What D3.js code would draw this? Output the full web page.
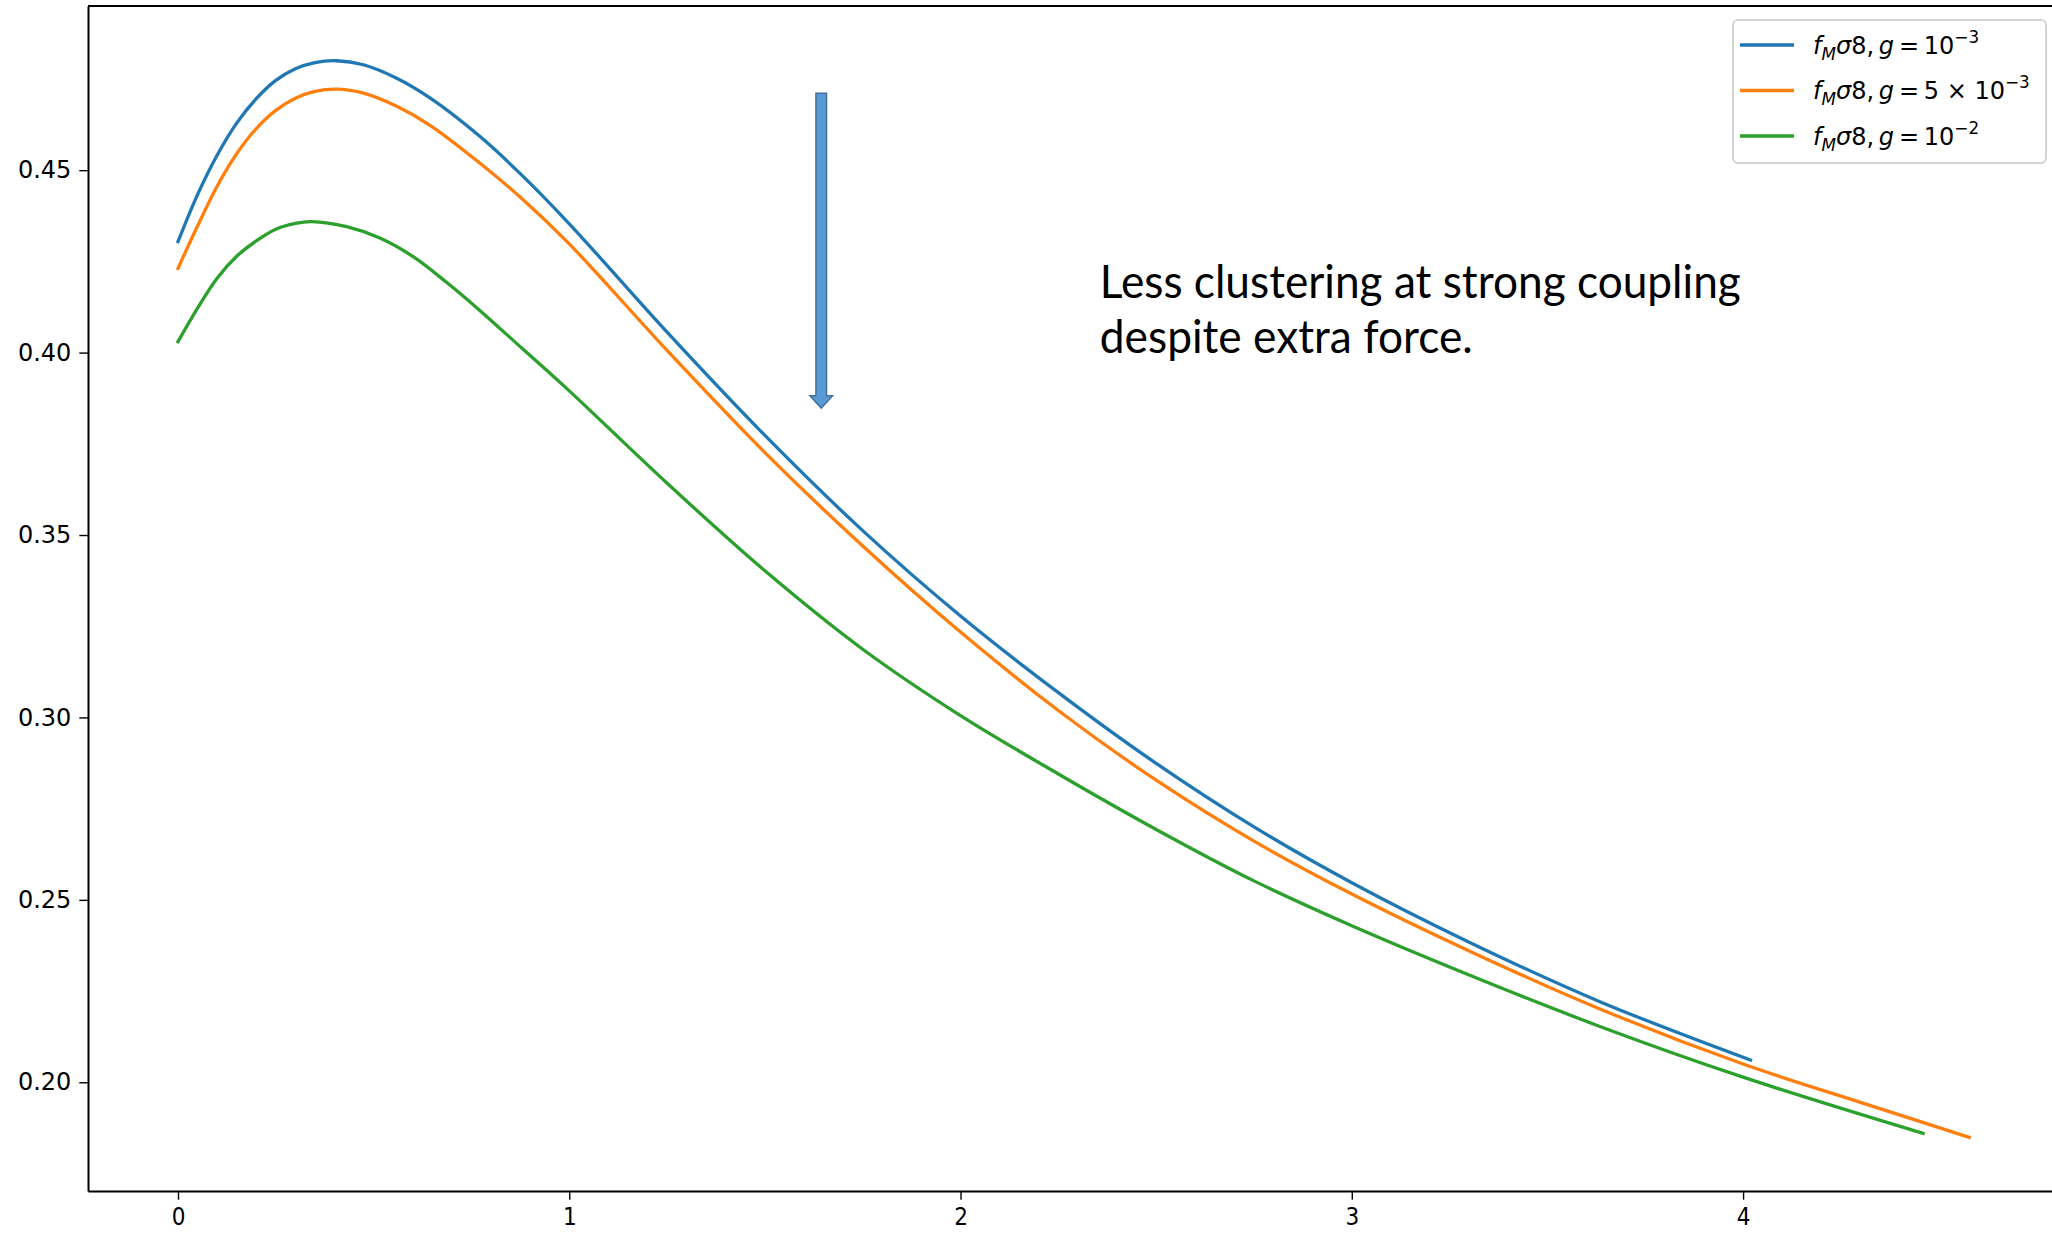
<!DOCTYPE html>
<html>
<head>
<meta charset="utf-8">
<script src="https://cdn.jsdelivr.net/npm/d3@7"></script>
<style>
    body { margin: 0; background: #fff; }
    svg { display: block; }
</style>
</head>
<body>
<svg id="chart"></svg>
<script>
// values (z on x, f_M sigma8 on y)
const blueX = [0, 0.05, 0.1, 0.15, 0.2, 0.25, 0.3, 0.35, 0.405, 0.474, 0.559, 0.644, 0.772, 0.88, 1.0, 1.25, 1.5, 1.75, 2.0, 2.25, 2.5, 2.75, 3.0, 3.3, 3.634, 4.019];
const blueY = [0.4304, 0.4433, 0.4541, 0.4629, 0.4696, 0.4746, 0.4778, 0.4795, 0.48, 0.4789, 0.4752, 0.4698, 0.4592, 0.4485, 0.4353, 0.4056, 0.3773, 0.3512, 0.3278, 0.3068, 0.2874, 0.27, 0.2547, 0.2384, 0.2221, 0.2061];

const orangeX = [0, 0.05, 0.1, 0.15, 0.2, 0.25, 0.3, 0.35, 0.41, 0.474, 0.559, 0.644, 0.772, 0.88, 1.0, 1.25, 1.5, 1.75, 2.0, 2.25, 2.5, 2.75, 3.0, 3.3, 3.634, 4.0, 4.3, 4.578];
const orangeY = [0.4231, 0.4347, 0.4456, 0.4545, 0.4614, 0.4664, 0.4697, 0.4716, 0.4722, 0.4711, 0.4675, 0.4623, 0.4519, 0.4421, 0.4298, 0.4006, 0.3726, 0.347, 0.3234, 0.3019, 0.2828, 0.2661, 0.2516, 0.236, 0.2201, 0.205, 0.1945, 0.1849];

const greenX = [0, 0.05, 0.1, 0.15, 0.2, 0.25, 0.3, 0.342, 0.431, 0.516, 0.601, 0.687, 0.772, 0.88, 1.0, 1.25, 1.5, 1.75, 2.0, 2.25, 2.5, 2.75, 3.0, 3.3, 3.634, 4.0, 4.46];
const greenY = [0.403, 0.4122, 0.4204, 0.4264, 0.4306, 0.4338, 0.4354, 0.4359, 0.4345, 0.4314, 0.4263, 0.4192, 0.4115, 0.4011, 0.3895, 0.3642, 0.3402, 0.3187, 0.3005, 0.2845, 0.2693, 0.2552, 0.2429, 0.2294, 0.2153, 0.2014, 0.186];

const xTicks = [0, 1, 2, 3, 4];
const yTicks = [0.2, 0.25, 0.3, 0.35, 0.4, 0.45];

const seriesLabels = [
    ['10', '−3'],
    ['5 × 10', '−3'],
    ['10', '−2']
];

// arrow + note, in data units
const arrowAt = { x: 1.644, yTop: 0.4711, yTip: 0.3848 };
const noteAt = { x: 2.356, y: 0.4149 };
const noteLines = ['Less clustering at strong coupling', 'despite extra force.'];

const colors = ['#1f77b4', '#ff7f0e', '#2ca02c'];

function renderChart() {
    const width = 2052;
    const height = 1236;
    const svg = d3.select('#chart').attr('width', width).attr('height', height);

    svg.append('rect').attr('width', width).attr('height', height).attr('fill', '#fff');

    const x = d3.scaleLinear().domain([-0.23, 4.81]).range([88, 2060]);
    const y = d3.scaleLinear().domain([0.1702, 0.495]).range([1191, 6]);

    const series = [
        blueX.map((d, i) => [d, blueY[i]]),
        orangeX.map((d, i) => [d, orangeY[i]]),
        greenX.map((d, i) => [d, greenY[i]])
    ];

    const line = d3
        .line()
        .x((d) => x(d[0]))
        .y((d) => y(d[1]))
        .curve(d3.curveCatmullRom.alpha(0.5));

    svg.append('g')
        .attr('fill', 'none')
        .attr('stroke-width', 3.3)
        .attr('stroke-linecap', 'square')
        .attr('stroke-linejoin', 'round')
        .selectAll('path')
        .data(series)
        .enter()
        .append('path')
        .attr('stroke', (d, i) => colors[i])
        .attr('d', line);

    // axes
    const yAxis = svg
        .append('g')
        .attr('transform', `translate(${x.range()[0]},0)`)
        .call(
            d3
                .axisLeft(y)
                .tickValues(yTicks)
                .tickFormat(d3.format('.2f'))
                .tickSize(8.7)
                .tickSizeOuter(0)
                .tickPadding(8)
        );
    yAxis.selectAll('text')
        .attr('font-family', 'DejaVu Sans')
        .attr('font-size', 24)
        .attr('fill', '#000');

    const xAxis = svg
        .append('g')
        .attr('transform', `translate(0,${y.range()[0]})`)
        .call(
            d3
                .axisBottom(x)
                .tickValues(xTicks)
                .tickFormat(d3.format('d'))
                .tickSize(8.7)
                .tickSizeOuter(0)
                .tickPadding(8)
        );
    xAxis.selectAll('text')
        .attr('font-family', 'DejaVu Sans Condensed')
        .attr('font-size', 24)
        .attr('fill', '#000');

    svg.selectAll('.domain').attr('stroke', '#000').attr('stroke-width', 2);
    svg.selectAll('.tick line').attr('stroke', '#000').attr('stroke-width', 1.4);

    // top + right spines
    svg.append('path')
        .attr('fill', 'none')
        .attr('stroke', '#000')
        .attr('stroke-width', 2)
        .attr('d', `M${x.range()[0]},${y.range()[1]} H${x.range()[1]} V${y.range()[0]}`);

    // legend
    const legend = svg.append('g').attr('transform', 'translate(1733,20)');
    legend.append('rect')
        .attr('width', 313)
        .attr('height', 143)
        .attr('rx', 5)
        .attr('fill', '#fff')
        .attr('fill-opacity', 0.8)
        .attr('stroke', '#d4d4d4')
        .attr('stroke-width', 2);

    const rows = legend
        .selectAll('g.row')
        .data(seriesLabels)
        .enter()
        .append('g')
        .attr('class', 'row')
        .attr('transform', (d, i) => `translate(0,${25 + i * 45.5})`);

    rows.append('line')
        .attr('x1', 7)
        .attr('x2', 61)
        .attr('stroke', (d, i) => colors[i])
        .attr('stroke-width', 3.3);

    rows.each(function (d) {
        const t = d3
            .select(this)
            .append('text')
            .attr('x', 80)
            .attr('y', 8.5)
            .attr('font-family', 'DejaVu Sans')
            .attr('font-size', 24)
            .attr('fill', '#000');
        const parts = [
            { s: 'f', it: true },
            { s: 'M', it: true, dy: 6, fs: 16.8 },
            { s: 'σ', it: true, dy: -6 },
            { s: '8' },
            { s: ',\u2009' },
            { s: 'g', it: true },
            { s: '\u2009=\u2009' },
            { s: d[0] },
            { s: d[1], dy: -11, fs: 16.8 }
        ];
        parts.forEach((p) => {
            t.append('tspan')
                .attr('dy', p.dy || 0)
                .attr('font-style', p.it ? 'italic' : 'normal')
                .attr('font-size', p.fs || 24)
                .text(p.s);
        });
    });

    // arrow
    const ax = x(arrowAt.x);
    const top = y(arrowAt.yTop);
    const tip = y(arrowAt.yTip);
    const base = tip - 12.3;
    svg.append('path')
        .attr('fill', '#5b9bd5')
        .attr('stroke', '#41719c')
        .attr('stroke-width', 1.5)
        .attr(
            'd',
            `M${ax - 5.3},${top} H${ax + 5.3} V${base} H${ax + 11.3} L${ax},${tip} L${ax - 11.3},${base} H${ax - 5.3} Z`
        );

    // note
    const noteWidths = [641, 373];
    svg.append('g')
        .selectAll('text')
        .data(noteLines)
        .enter()
        .append('text')
        .attr('x', x(noteAt.x))
        .attr('y', (d, i) => y(noteAt.y) + i * 55)
        .attr('font-family', 'Lato')
        .attr('font-size', 46)
        .attr('fill', '#000')
        .attr('textLength', (d, i) => noteWidths[i])
        .attr('lengthAdjust', 'spacingAndGlyphs')
        .text((d) => d);
}

renderChart();
</script>
</body>
</html>
